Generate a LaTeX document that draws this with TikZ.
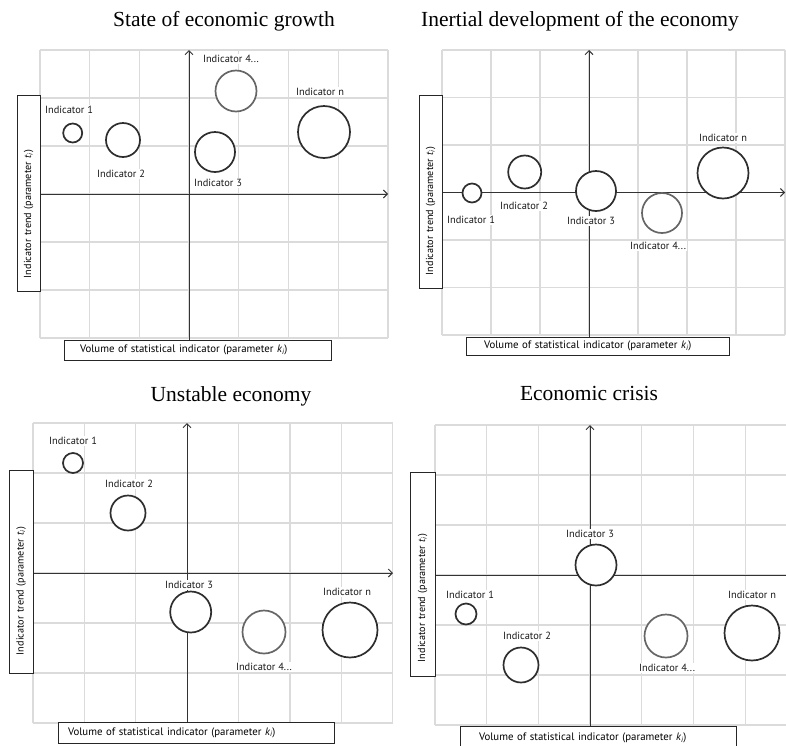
\documentclass[tikz,border=0pt]{standalone}
\usepackage{fontspec}
\setmainfont{Liberation Serif}
\newfontfamily\labfont{PT Sans}
\usetikzlibrary{arrows.meta}
\tikzset{
  gridline/.style={draw=black!14, line width=1.3pt},
  axisline/.style={draw=black!80, line width=1pt, -{Straight Barb[length=4pt,width=8pt]}},
  ind/.style={circle, draw=black!82, line width=1.7pt, fill=white, inner sep=0pt},
  indlight/.style={ind, draw=black!60},
  lab/.style={font=\labfont\fontsize{10.4}{11}\selectfont, text=black!90, fill=white, inner sep=1pt},
  ttl/.style={font=\fontsize{21.5}{24}\selectfont, anchor=base, inner sep=0pt},
  ybox/.style={draw=black!85, line width=0.9pt, fill=white, rotate=90,
    font=\labfont\fontsize{10.2}{11}\selectfont, align=left, inner ysep=0pt},
  xbox/.style={draw=black!85, line width=0.9pt, fill=white,
    font=\labfont\fontsize{10.8}{11}\selectfont, align=left, inner ysep=0pt}
}
\newcommand{\mygrid}[5]{%
  \foreach \i in {0,...,#5} \draw[gridline] ({#1+\i*#3},#2) -- ({#1+\i*#3},{#2+6*#4});
  \foreach \j in {0,...,6} \draw[gridline] (#1,{#2+\j*#4}) -- ({#1+#5*#3},{#2+\j*#4});
}
\newcommand{\ylab}{Indicator trend (parameter {\itshape t}\textsubscript{\itshape i})}
\newcommand{\xlab}{Volume of statistical indicator (parameter {\itshape k}\textsubscript{\itshape i})}
\begin{document}
\begin{tikzpicture}[x=1pt, y=-1pt]
\useasboundingbox (0,0) rectangle (786,745);
\clip (0,0) rectangle (786,745);
\fill[white] (0,0) rectangle (786,745);

% ---------- titles ----------
\node[ttl] (t1) at (224,26.5) {State of economic growth};
\node[ttl] (t2) at (580,26) {Inertial development of the economy};
\node[ttl] (t3) at (231,401.5) {Unstable economy};
\node[ttl] (t4) at (589,400) {Economic crisis};

% ---------- grids ----------
\mygrid{40}{50}{49.7}{48}{7}
\mygrid{442}{50}{49}{47.5}{7}
\mygrid{33}{423}{51.4}{50}{7}
\mygrid{435}{425}{51.7}{50}{7}

% ---------- axes ----------
\coordinate (a1s) at (189,340); \coordinate (a1e) at (189,50);
\coordinate (b1s) at (40,194);  \coordinate (b1e) at (388,194);
\coordinate (a2s) at (589,337); \coordinate (a2e) at (589,50);
\coordinate (b2s) at (442,192.5); \coordinate (b2e) at (785,192.5);
\coordinate (a3s) at (187,722); \coordinate (a3e) at (187,423);
\coordinate (b3s) at (33,573);  \coordinate (b3e) at (393,573);
\coordinate (a4s) at (590,726); \coordinate (a4e) at (590,425);
\coordinate (b4s) at (435,575); \coordinate (b4e) at (805,575);
\draw[axisline] (a1s) -- (a1e);
\draw[axisline] (b1s) -- (b1e);
\draw[axisline] (a2s) -- (a2e);
\draw[axisline] (b2s) -- (b2e);
\draw[axisline] (a3s) -- (a3e);
\draw[axisline] (b3s) -- (b3e);
\draw[axisline] (a4s) -- (a4e);
\draw[axisline] (b4s) -- (b4e);

% ---------- axis label boxes ----------
\node[ybox, minimum height=23pt, inner xsep=13pt, text width=170pt] (y1) at (28.5,193) {\ylab};
\node[ybox, minimum height=23pt, inner xsep=13pt, text width=167pt] (y2) at (430.5,191.5) {\ylab};
\node[ybox, minimum height=24pt, inner xsep=18pt, text width=167pt] (y3) at (21,571.5) {\ylab};
\node[ybox, minimum height=25pt, inner xsep=14pt, text width=176pt] (y4) at (422.5,574) {\ylab};

\node[xbox, minimum height=20pt, inner xsep=16pt, text width=235pt] (x1) at (197.5,350) {\xlab};
\node[xbox, minimum height=18pt, inner xsep=18pt, text width=227pt] (x2) at (597.5,346) {\xlab};
\node[xbox, minimum height=21pt, inner xsep=10pt, text width=256pt] (x3) at (196,732.5) {\xlab};
\node[xbox, minimum height=24pt, inner xsep=19pt, text width=238pt] (x4) at (598,738) {\xlab};

% ---------- panel 1 ----------
\node[ind, minimum size=19pt] (p1a) at (72.7,133) {};
\node[ind, minimum size=34pt] (p1b) at (123,140) {};
\node[ind, minimum size=40pt] (p1c) at (215,152) {};
\node[indlight, minimum size=41pt] (p1d) at (236,91) {};
\node[ind, minimum size=52pt] (p1n) at (324,132) {};
\node[lab] (l1a) at (69,110) {Indicator 1};
\node[lab] (l1b) at (121,174) {Indicator 2};
\node[lab] (l1c) at (218,183) {Indicator 3};
\node[lab] (l1d) at (231,59) {Indicator 4...};
\node[lab] (l1n) at (320,92) {Indicator n};

% ---------- panel 2 ----------
\node[ind, minimum size=19pt] (p2a) at (472,193) {};
\node[ind, minimum size=33pt] (p2b) at (524.7,172) {};
\node[ind, minimum size=40pt] (p2c) at (596,191) {};
\node[indlight, minimum size=40pt] (p2d) at (662,213) {};
\node[ind, minimum size=51pt] (p2n) at (723,173) {};
\node[lab] (l2a) at (471,220) {Indicator 1};
\node[lab] (l2b) at (524,206) {Indicator 2};
\node[lab] (l2c) at (591,221) {Indicator 3};
\node[lab] (l2d) at (658,246) {Indicator 4...};
\node[lab] (l2n) at (723,138) {Indicator n};

% ---------- panel 3 ----------
\node[ind, minimum size=20pt] (p3a) at (73,463) {};
\node[ind, minimum size=35pt] (p3b) at (128,513) {};
\node[ind, minimum size=41pt] (p3c) at (190.7,612) {};
\node[indlight, minimum size=43pt] (p3d) at (264,632) {};
\node[ind, minimum size=55pt] (p3n) at (350,630) {};
\node[lab] (l3a) at (73,441) {Indicator 1};
\node[lab] (l3b) at (129,484) {Indicator 2};
\node[lab] (l3c) at (189,585) {Indicator 3};
\node[lab] (l3d) at (264,667) {Indicator 4...};
\node[lab] (l3n) at (347,592) {Indicator n};

% ---------- panel 4 ----------
\node[ind, minimum size=21pt] (p4a) at (466,614) {};
\node[ind, minimum size=35pt] (p4b) at (521,665) {};
\node[ind, minimum size=41pt] (p4c) at (596,565) {};
\node[indlight, minimum size=43pt] (p4d) at (666,636) {};
\node[ind, minimum size=55pt] (p4n) at (752,633) {};
\node[lab] (l4a) at (470,595) {Indicator 1};
\node[lab] (l4b) at (527,636) {Indicator 2};
\node[lab] (l4c) at (590,534) {Indicator 3};
\node[lab] (l4d) at (667,668) {Indicator 4...};
\node[lab] (l4n) at (752,595) {Indicator n};
\end{tikzpicture}
\end{document}
